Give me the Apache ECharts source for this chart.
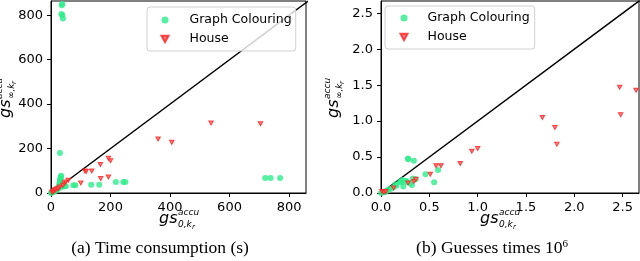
<!DOCTYPE html>
<html>
<head>
<meta charset="utf-8">
<script src="https://cdn.jsdelivr.net/npm/echarts@6/dist/echarts.min.js"></script>
<style>
html,body{margin:0;padding:0;background:#fff;}
#chart{width:640px;height:261px;}
</style>
</head>
<body>
<div id="chart"></div>
<script>
// ---- Data: (a) Time consumption (s) ----
var timeGraphColouring = [
  [0,0],[2,2],[4,5],[6,4],[8,8],[10,6],[12,12],[15,10],[18,15],[20,20],[22,18],[25,25],
  [27,30],[28,40],[30,45],[30,55],[31,60],[32,65],[33,72],[34,78],[26,20],[35,30],[40,28],
  [45,32],[50,30],[30,180],[35,805],[38,800],[40,785],[36,845],[38,850],[75,35],[82,35],
  [135,37],[162,37],[218,50],[243,50],[250,50],[720,67],[738,67],[770,68]
];
var timeHouse = [
  [3,3],[6,6],[9,8],[12,12],[15,15],[20,18],[25,22],[30,27],[40,35],[45,45],[50,50],[58,57],
  [100,45],[114,99],[118,97],[137,99],[166,128],[167,65],[193,72],[193,157],[200,145],
  [360,243],[406,228],[538,315],[704,312]
];
// ---- Data: (b) Guesses times 10^6 ----
var guessGraphColouring = [
  [0,0],[0.02,0.01],[0.04,0.01],[0.06,0.03],[0.08,0.05],[0.1,0.06],[0.13,0.08],[0.15,0.12],
  [0.16,0.1],[0.2,0.16],[0.21,0.15],[0.22,0.18],[0.23,0.09],[0.26,0.17],[0.27,0.15],
  [0.28,0.48],[0.28,0.47],[0.3,0.14],[0.32,0.11],[0.34,0.45],[0.33,0.2],[0.36,0.19],
  [0.46,0.26],[0.55,0.15],[0.59,0.32]
];
var guessHouse = [
  [0.01,0.02],[0.03,0.01],[0.05,0.02],[0.13,0.07],[0.28,0.14],[0.34,0.16],[0.36,0.19],
  [0.51,0.26],[0.57,0.38],[0.62,0.38],[0.82,0.41],[0.94,0.58],[1.0,0.62],[1.67,1.05],
  [1.8,0.91],[1.82,0.68],[2.47,1.47],[2.48,1.09],[2.64,1.43]
];
// diagonal y = x endpoints
var diagTime = [0, 870];
var diagGuess = [0, 2.7];
var seriesNames = ['Graph Colouring', 'House'];
var titleA = '(a) Time consumption (s)';
var titleB = '(b) Guesses times 10';

var GREEN = '#2aec8a';
var RED = '#ff2020';
var TRI = 'path://M0,0 L10,0 L5,9 Z';
var FONT = 'DejaVu Sans';

function axisCommon(min, max, interval, gridIndex, fmt) {
  return {
    type: 'value', gridIndex: gridIndex, min: min, max: max, interval: interval,
    axisLine: {show: true, onZero: false, lineStyle: {color: '#000', width: 1}},
    axisTick: {show: true, length: 4, lineStyle: {color: '#000'}},
    splitLine: {show: false},
    axisLabel: {color: '#000', fontSize: 13, fontFamily: FONT, formatter: fmt,
      showMinLabel: true, showMaxLabel: false}
  };
}
function fmtInt(v){ return String(Math.round(v)); }
function fmt1(v){ return v.toFixed(1); }

function mathLabel(x, y, rotation, subMain) {
  var it = 'italic 16px "DejaVu Sans"';
  var sm = 'italic 9px "DejaVu Sans"';
  var tiny = 'italic 7px "DejaVu Sans"';
  return {
    type: 'group', x: x, y: y, rotation: rotation, silent: true,
    children: [
      {type: 'text', x: 0, y: 0, style: {text: 'gs', font: it, fill: '#000', align: 'left', verticalAlign: 'middle'}},
      {type: 'text', x: 19, y: -6, style: {text: 'accu', font: sm, fill: '#000', align: 'left', verticalAlign: 'middle'}},
      {type: 'text', x: 19, y: 6, style: {text: subMain, font: sm, fill: '#000', align: 'left', verticalAlign: 'middle'}},
      {type: 'text', x: 19 + (subMain === '0,k' ? 14 : 15), y: 8, style: {text: 'r', font: tiny, fill: '#000', align: 'left', verticalAlign: 'middle'}}
    ]
  };
}

function legendFmt(name) { return '{sp|}' + name; }

var chart = echarts.init(document.getElementById('chart'), null, {renderer: 'canvas'});
var option = {
  animation: false,
  backgroundColor: '#fff',
  grid: [
    {left: 51, top: 1, width: 255, height: 192, show: true, borderColor: '#000', borderWidth: 1, containLabel: false},
    {left: 381, top: 1, width: 258, height: 192, show: true, borderColor: '#000', borderWidth: 1, containLabel: false}
  ],
  xAxis: [
    axisCommon(0, 857, 200, 0, fmtInt),
    axisCommon(0, 2.67, 0.5, 1, fmt1)
  ],
  yAxis: [
    axisCommon(0, 864, 200, 0, fmtInt),
    axisCommon(0, 2.67, 0.5, 1, fmt1)
  ],
  legend: [
    {
      left: 147, top: 7, orient: 'vertical', data: seriesNames, formatter: legendFmt,
      padding: [5, 4, 4, 13.5], itemGap: 3, itemWidth: 7, itemHeight: 7,
      backgroundColor: 'rgba(255,255,255,0.8)', borderColor: '#d0d0d0', borderWidth: 1, borderRadius: 3,
      textStyle: {fontSize: 12.5, fontFamily: FONT, color: '#000', lineHeight: 16,
        rich: {sp: {width: 16}}},
      selectedMode: false
    },
    {
      left: 385, top: 6, orient: 'vertical', data: seriesNames, formatter: legendFmt,
      padding: [4, 5, 4, 14.5], itemGap: 3, itemWidth: 7, itemHeight: 7,
      backgroundColor: 'rgba(255,255,255,0.8)', borderColor: '#d0d0d0', borderWidth: 1, borderRadius: 3,
      textStyle: {fontSize: 12.5, fontFamily: FONT, color: '#000', lineHeight: 16,
        rich: {sp: {width: 15}}},
      selectedMode: false
    }
  ],
  series: [
    {type: 'line', xAxisIndex: 0, yAxisIndex: 0, data: [[diagTime[0], diagTime[0]], [diagTime[1], diagTime[1]]],
      symbol: 'none', lineStyle: {color: '#000', width: 1.5}, silent: true, z: 1},
    {type: 'line', xAxisIndex: 1, yAxisIndex: 1, data: [[diagGuess[0], diagGuess[0]], [diagGuess[1], diagGuess[1]]],
      symbol: 'none', lineStyle: {color: '#000', width: 1.5}, silent: true, z: 1},
    {name: seriesNames[0], type: 'scatter', xAxisIndex: 0, yAxisIndex: 0, data: timeGraphColouring,
      symbol: 'circle', symbolSize: 6, itemStyle: {color: GREEN}, z: 3},
    {name: seriesNames[1], type: 'scatter', xAxisIndex: 0, yAxisIndex: 0, data: timeHouse,
      symbol: TRI, symbolSize: [4.5, 4], itemStyle: {color: '#ff6060', borderColor: RED, borderWidth: 1}, z: 3},
    {name: seriesNames[0], type: 'scatter', xAxisIndex: 1, yAxisIndex: 1, data: guessGraphColouring,
      symbol: 'circle', symbolSize: 6, itemStyle: {color: GREEN}, z: 3},
    {name: seriesNames[1], type: 'scatter', xAxisIndex: 1, yAxisIndex: 1, data: guessHouse,
      symbol: TRI, symbolSize: [4.5, 4], itemStyle: {color: '#ff6060', borderColor: RED, borderWidth: 1}, z: 3}
  ],
  graphic: [
    mathLabel(159, 219, 0, '0,k'),
    mathLabel(480, 219, 0, '0,k'),
    mathLabel(6, 118, Math.PI / 2, '\u221E,k'),
    mathLabel(334, 118, Math.PI / 2, '\u221E,k'),
    {type: 'text', x: 160, y: 248, silent: true,
      style: {text: titleA, font: '17.5px "Liberation Serif"', fill: '#000', align: 'center', verticalAlign: 'middle'}},
    {type: 'text', x: 492, y: 248, silent: true,
      style: {text: titleB + '{s|6}', font: '17.5px "Liberation Serif"', fill: '#000', align: 'center', verticalAlign: 'middle',
        rich: {s: {fontSize: 11, fontFamily: 'Liberation Serif', verticalAlign: 'top', padding: [0, 0, 8, 0]}}}}
  ]
};
chart.setOption(option);
</script>
</body>
</html>
